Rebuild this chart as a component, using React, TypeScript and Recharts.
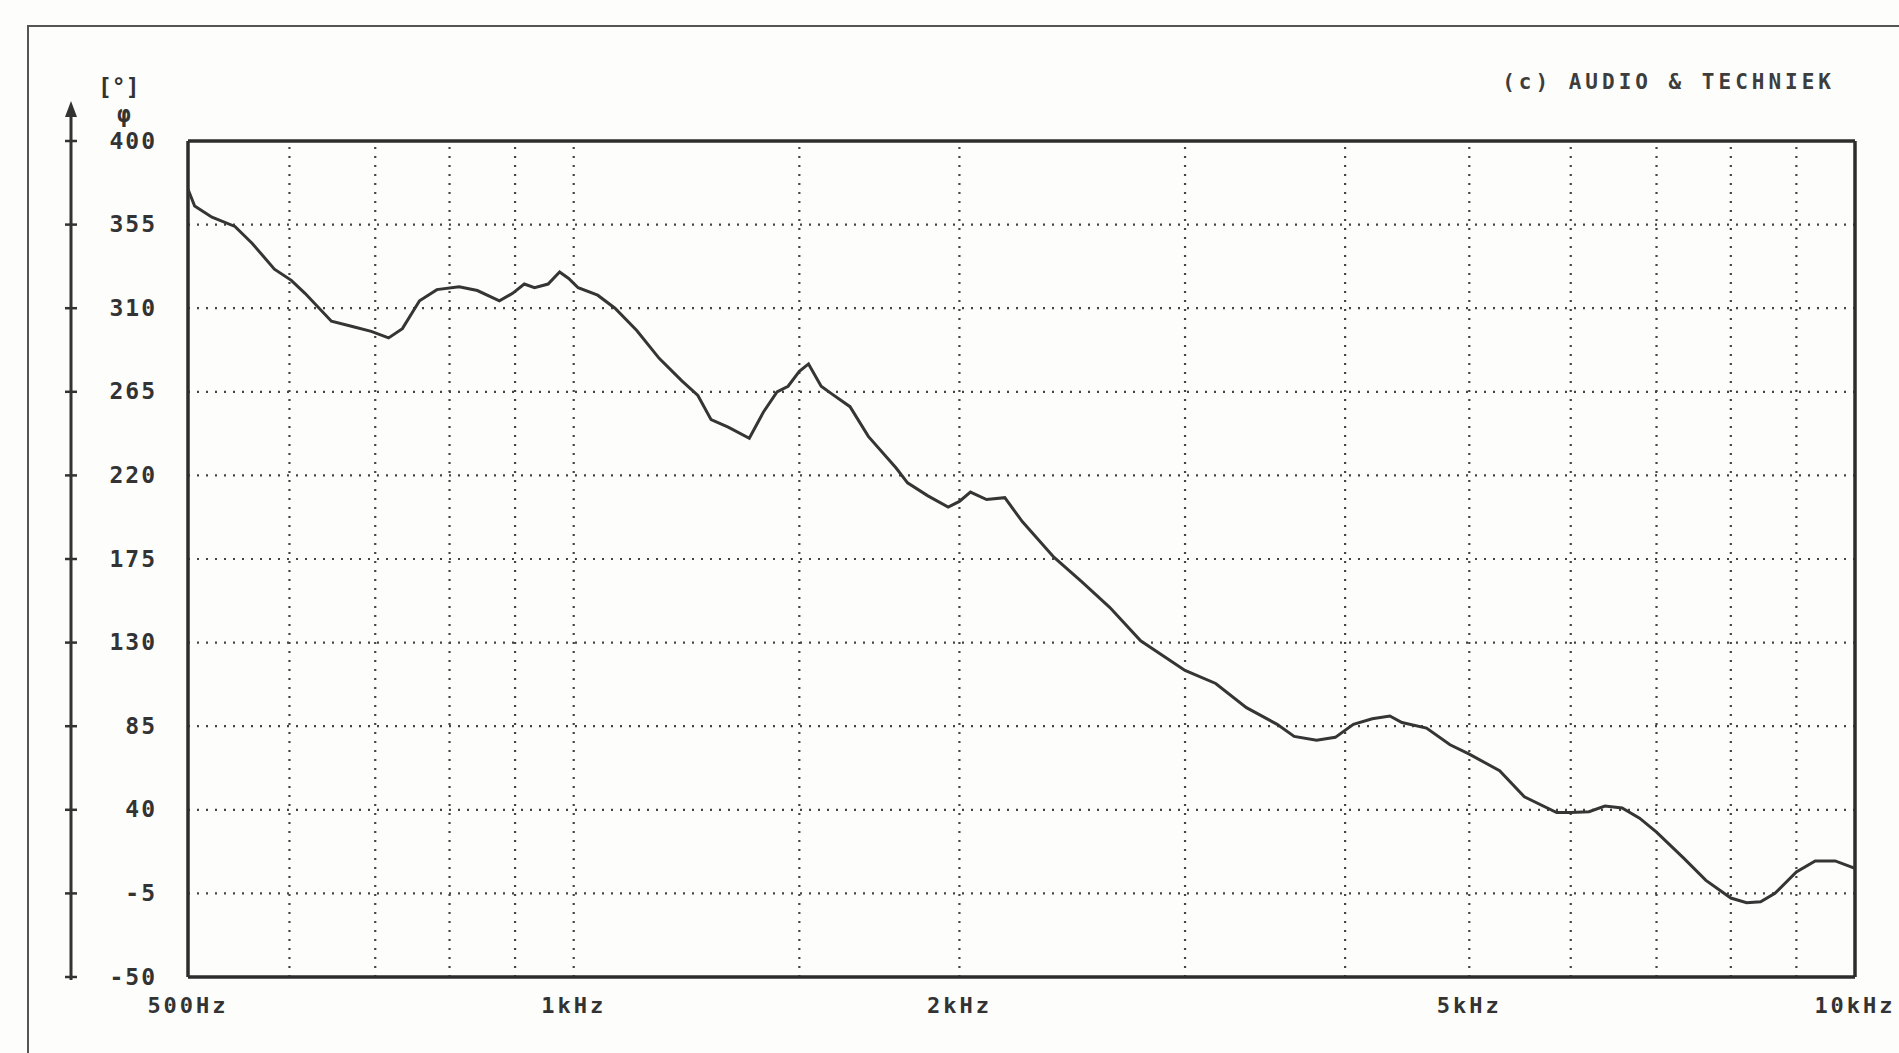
import React from "react";
import { LineChart, Line, XAxis, YAxis, ReferenceLine } from "recharts";

// Frequency (Hz) and phase (degrees)
const freqs = [
  500, 506, 522, 544, 561, 584, 602, 617, 647, 673, 695, 717, 735, 758, 782, 814, 841, 875, 896, 915,
  932, 955, 975, 991, 1008, 1044, 1077, 1120, 1166, 1214, 1250, 1280, 1320, 1371, 1406, 1441, 1470, 1500,
  1525, 1560, 1589, 1643, 1698, 1785, 1822, 1890, 1960, 2000, 2040, 2100, 2170, 2240, 2370, 2490, 2620,
  2770, 3000, 3170, 3350, 3540, 3650, 3800, 3930, 4060, 4200, 4335, 4430, 4630, 4830, 5000, 5280, 5520,
  5850, 6000, 6200, 6380, 6580, 6790, 7000, 7350, 7650, 8000, 8230, 8440, 8660, 9000, 9310, 9650, 10000,
];
const phases = [
  374, 365, 359, 354, 345, 331, 325, 318, 303, 300, 297.5, 294, 299, 314, 320, 321.5, 319.5, 314, 318, 323,
  321, 323, 329.5, 326, 321, 317, 310, 298, 283, 271, 263, 250, 246, 240, 254, 265, 268, 276,
  280, 268, 264, 257, 241, 224, 216, 209, 203, 206, 211, 207, 208, 195, 176, 163, 149,
  131, 115, 108, 95, 86, 79.5, 77.5, 79, 86, 89, 90.5, 87, 84, 75, 70, 61, 47,
  38.5, 38.5, 39, 42, 41, 35.5, 28, 14, 2, -7.5, -10, -9.5, -5, 6.5, 12.5, 12.5, 8.5,
];

const xTicks = [500, 1000, 2000, 5000, 10000];
const xTickLabels = ["500Hz", "1kHz", "2kHz", "5kHz", "10kHz"];
const yTicks = [400, 355, 310, 265, 220, 175, 130, 85, 40, -5, -50];
const gridFreqs = [600, 700, 800, 900, 1000, 1500, 2000, 3000, 4000, 5000, 6000, 7000, 8000, 9000];
const gridPhases = [355, 310, 265, 220, 175, 130, 85, 40, -5];
const X_DOMAIN = [500, 10000];
const Y_DOMAIN = [-50, 400];

const data = freqs.map((f, i) => ({ freq: f, phase: phases[i] }));

const INK = "#333333";
const FONT = "'DejaVu Sans Mono', monospace";
const LABEL_X = 157;

const XTick = (props: any) => {
  const { x, y, payload } = props;
  const idx = xTicks.indexOf(payload.value);
  return (
    <text
      x={x}
      y={y + 22}
      textAnchor="middle"
      dominantBaseline="middle"
      fontFamily={FONT}
      fontWeight="bold"
      fontSize={22}
      letterSpacing={3}
      fill={INK}
    >
      {idx >= 0 ? xTickLabels[idx] : payload.value}
    </text>
  );
};

const YLabelTick = (props: any) => {
  const { y, payload } = props;
  return (
    <text
      x={LABEL_X}
      y={y + 1}
      textAnchor="end"
      dominantBaseline="middle"
      fontFamily={FONT}
      fontWeight="bold"
      fontSize={23}
      letterSpacing={2}
      fill={INK}
    >
      {String(payload.value)}
    </text>
  );
};

const DecoTick = (props: any) => {
  const { y, payload, axisX, plotHeight } = props;
  const ax = axisX;
  return (
    <g>
      <line x1={ax - 6} x2={ax + 6} y1={y} y2={y} stroke={INK} strokeWidth={2.5} />
      {payload.value === Y_DOMAIN[1] && (
        <g>
          <line x1={ax} x2={ax} y1={y - 34} y2={y + plotHeight + 3} stroke={INK} strokeWidth={3} />
          <polygon points={`${ax - 6},${y - 24} ${ax + 6},${y - 24} ${ax},${y - 40}`} fill={INK} />
        </g>
      )}
    </g>
  );
};

export default function App() {
  const W = 1899;
  const H = 1053;
  const labelAxisW = 117;
  const decoAxisW = 30;
  const xAxisH = 40;
  const margin = { top: 141, right: 44, bottom: 36, left: 188 - labelAxisW - decoAxisW };
  const axisX = margin.left + decoAxisW;
  const plotHeight = H - margin.top - margin.bottom - xAxisH;
  return (
    <div style={{ position: "absolute", left: 0, top: 0, width: W, height: H, background: "#fdfdfb", overflow: "hidden" }}>
      <div
        style={{
          position: "absolute",
          left: 27,
          top: 25,
          width: W,
          height: H,
          borderLeft: "2px solid #555",
          borderTop: "2px solid #555",
        }}
      />
      <div
        style={{
          position: "absolute",
          left: 98,
          top: 76,
          fontFamily: FONT,
          fontWeight: "bold",
          fontSize: 23,
          color: INK,
          lineHeight: "23px",
        }}
      >
        [°]
      </div>
      <div
        style={{
          position: "absolute",
          left: 117,
          top: 103,
          fontFamily: FONT,
          fontWeight: "bold",
          fontSize: 23,
          color: INK,
          lineHeight: "23px",
        }}
      >
        φ
      </div>
      <div
        style={{
          position: "absolute",
          right: W - 1835,
          top: 70,
          fontFamily: FONT,
          fontWeight: "bold",
          fontSize: 21,
          letterSpacing: 4,
          color: "#3d3d3d",
          whiteSpace: "pre",
        }}
      >
        (c) AUDIO &amp; TECHNIEK
      </div>
      <div style={{ position: "absolute", left: 0, top: 0 }}>
        <LineChart width={W} height={H} data={data} margin={margin}>
          <XAxis
            dataKey="freq"
            type="number"
            scale="log"
            domain={X_DOMAIN}
            ticks={xTicks}
            allowDataOverflow
            axisLine={false}
            tickLine={false}
            height={xAxisH}
            tick={<XTick />}
            interval={0}
          />
          <YAxis
            yAxisId="main"
            type="number"
            domain={Y_DOMAIN}
            ticks={yTicks}
            allowDataOverflow
            axisLine={false}
            tickLine={false}
            width={labelAxisW}
            tick={<YLabelTick />}
            interval={0}
          />
          <YAxis
            yAxisId="deco"
            type="number"
            domain={Y_DOMAIN}
            ticks={yTicks}
            allowDataOverflow
            axisLine={false}
            tickLine={false}
            width={decoAxisW}
            tick={<DecoTick axisX={axisX} plotHeight={plotHeight} />}
            interval={0}
          />
          {gridFreqs.map((f) => (
            <ReferenceLine
              key={"gx" + f}
              yAxisId="main"
              x={f}
              stroke="#444"
              strokeWidth={2.2}
              strokeDasharray="2 7"
              ifOverflow="hidden"
            />
          ))}
          {gridPhases.map((p) => (
            <ReferenceLine
              key={"gy" + p}
              yAxisId="main"
              y={p}
              stroke="#444"
              strokeWidth={2.2}
              strokeDasharray="2 7"
            />
          ))}
          <ReferenceLine yAxisId="main" x={X_DOMAIN[0]} stroke="#2d2d2d" strokeWidth={3.5} />
          <ReferenceLine yAxisId="main" x={X_DOMAIN[1]} stroke="#2d2d2d" strokeWidth={3.5} />
          <ReferenceLine yAxisId="main" y={Y_DOMAIN[0]} stroke="#2d2d2d" strokeWidth={3.5} />
          <ReferenceLine yAxisId="main" y={Y_DOMAIN[1]} stroke="#2d2d2d" strokeWidth={3.5} />
          <Line
            yAxisId="main"
            dataKey="phase"
            type="linear"
            stroke="#353535"
            strokeWidth={3}
            dot={false}
            isAnimationActive={false}
          />
        </LineChart>
      </div>
    </div>
  );
}
